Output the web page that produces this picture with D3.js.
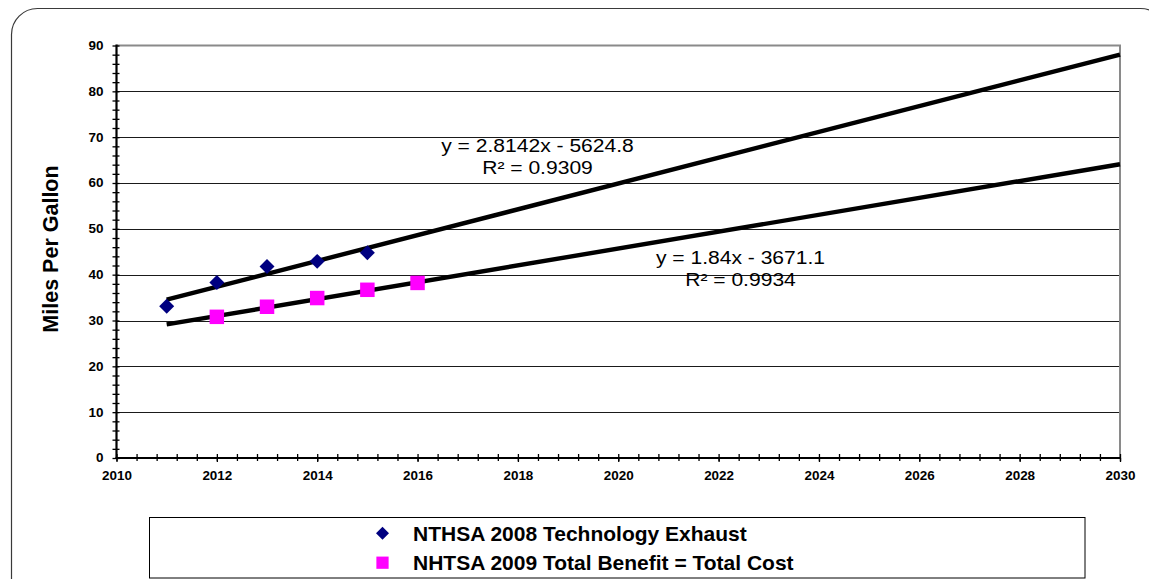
<!DOCTYPE html>
<html>
<head>
<meta charset="utf-8">
<script src="https://cdn.jsdelivr.net/npm/d3@7"></script>
<style>
  body { margin: 0; background: #fff; }
  svg { display: block; }
  text { font-family: "Liberation Sans", Arial, sans-serif; fill: #000; }
</style>
</head>
<body>
<svg id="chart" width="1149" height="579"></svg>
<script>
// Fuel economy estimates (miles per gallon) by model year
const tech2008Years = [2011, 2012, 2013, 2014, 2015];
const tech2008Mpg = [33.1, 38.3, 41.8, 42.9, 44.8];
const benefit2009Years = [2012, 2013, 2014, 2015, 2016];
const benefit2009Mpg = [30.8, 33.0, 34.9, 36.7, 38.2];
const seriesNames = ["NTHSA 2008 Technology Exhaust", "NHTSA 2009 Total Benefit = Total Cost"];

// Linear trendlines fitted to each series
const trendSlopes = [2.8142, 1.84];
const trendIntercepts = [-5624.8, -3671.1];
const trendR2 = [0.9309, 0.9934];
const trendRange = [2011, 2030];

// Axis ticks
const xTicks = d3.range(2010, 2031, 2);
const xMinorTicks = d3.range(0, 51).map(i => 2010 + i * 0.4);
const yTicks = d3.range(0, 91, 10);
const yMinorTicks = d3.range(0, 91, 2);
const yTitle = "Miles Per Gallon";

const svg = d3.select("#chart");
const plot = { left: 116.5, right: 1120, top: 45.5, bottom: 458 };
const x = d3.scaleLinear().domain([2010, 2030]).range([plot.left, plot.right]);
const y = d3.scaleLinear().domain([0, 90]).range([plot.bottom, plot.top]);

// Widen text slightly, the way the chart's renderer spaces glyphs
function widen(sel, factor) {
  sel.each(function () {
    const w = this.getComputedTextLength();
    d3.select(this).attr("textLength", w * factor).attr("lengthAdjust", "spacingAndGlyphs");
  });
}

// Outer rounded frame
svg.append("rect")
  .attr("x", 11.5).attr("y", 8.5)
  .attr("width", 1155).attr("height", 600)
  .attr("rx", 26).attr("ry", 26)
  .attr("fill", "none").attr("stroke", "#3a3a3a").attr("stroke-width", 1.2);

// Horizontal gridlines
svg.append("g")
  .selectAll("line")
  .data(yTicks.filter(v => v > 0 && v < 90))
  .join("line")
  .attr("x1", plot.left).attr("x2", plot.right)
  .attr("y1", d => Math.round(y(d)) + 0.5).attr("y2", d => Math.round(y(d)) + 0.5)
  .attr("stroke", "#1a1a1a").attr("stroke-width", 1);

// Plot area border (top and right)
svg.append("path")
  .attr("d", `M${plot.left},${plot.top}H${plot.right}V${plot.bottom}`)
  .attr("fill", "none").attr("stroke", "#8a8a8a").attr("stroke-width", 2);

// Y axis: ticks cross the axis line
const yAxisG = svg.append("g").attr("transform", `translate(${plot.left},0)`);
yAxisG.append("g").call(d3.axisLeft(y).tickValues(yMinorTicks).tickSize(4).tickFormat(""));
yAxisG.append("g").call(d3.axisRight(y).tickValues(yMinorTicks).tickSize(3).tickFormat(""));
yAxisG.selectAll(".domain").remove();
yAxisG.selectAll("line").attr("stroke", "#000").attr("stroke-width", 1.3);
yAxisG.append("line").attr("y1", plot.top - 1).attr("y2", plot.bottom + 1)
  .attr("stroke", "#000").attr("stroke-width", 2.2);
const yLabels = yAxisG.append("g").call(d3.axisLeft(y).tickValues(yTicks).tickSize(0).tickPadding(13));
yLabels.select(".domain").remove();
yLabels.selectAll("text")
  .attr("font-size", 12).attr("font-weight", "bold")
  .attr("font-family", "Liberation Sans, Arial, sans-serif")
  .attr("fill", "#000").call(widen, 1.12);

// X axis: ticks cross the axis line
const xAxisG = svg.append("g").attr("transform", `translate(0,${plot.bottom})`);
xAxisG.append("g").call(d3.axisBottom(x).tickValues(xMinorTicks).tickSize(3).tickFormat(""));
xAxisG.append("g").call(d3.axisTop(x).tickValues(xMinorTicks).tickSize(4).tickFormat(""));
xAxisG.append("g").call(d3.axisBottom(x).tickValues(xTicks).tickSize(4).tickFormat(""));
xAxisG.selectAll(".domain").remove();
xAxisG.selectAll("line").attr("stroke", "#000").attr("stroke-width", 1.3);
xAxisG.append("line").attr("x1", plot.left - 1).attr("x2", plot.right + 1)
  .attr("stroke", "#000").attr("stroke-width", 2.2);
const xLabels = xAxisG.append("g").call(d3.axisBottom(x).tickValues(xTicks).tickSize(0).tickPadding(13).tickFormat(d3.format("d")));
xLabels.select(".domain").remove();
xLabels.selectAll("text")
  .attr("font-size", 12).attr("font-weight", "bold")
  .attr("font-family", "Liberation Sans, Arial, sans-serif")
  .attr("fill", "#000").call(widen, 1.12);

// Y axis title
svg.append("text")
  .attr("transform", "translate(58,249) rotate(-90)")
  .attr("text-anchor", "middle")
  .attr("font-size", 21.5).attr("font-weight", "bold")
  .text(yTitle);

// Trendlines
trendSlopes.forEach((m, i) => {
  const pts = trendRange.map(t => [t, m * t + trendIntercepts[i]]);
  svg.append("path")
    .attr("d", d3.line().x(d => x(d[0])).y(d => y(d[1]))(pts))
    .attr("fill", "none").attr("stroke", "#000").attr("stroke-width", 4.4)
    .attr("stroke-linecap", "butt");
});

// Data markers
const diamond = d3.symbol().type(d3.symbolSquare).size(112);
svg.append("g").selectAll("path")
  .data(d3.zip(tech2008Years, tech2008Mpg))
  .join("path")
  .attr("d", diamond)
  .attr("transform", d => `translate(${x(d[0])},${y(d[1])}) rotate(45)`)
  .attr("fill", "#000080");

const square = d3.symbol().type(d3.symbolSquare).size(210);
svg.append("g").selectAll("path")
  .data(d3.zip(benefit2009Years, benefit2009Mpg))
  .join("path")
  .attr("d", square)
  .attr("transform", d => `translate(${x(d[0])},${y(d[1])})`)
  .attr("fill", "#ff00ff");

// Trendline equations
const fmtEq = (m, b) => `y = ${m}x - ${Math.abs(b)}`;
const eqPos = [{ cx: 537.5, y: 151.5 }, { cx: 740.5, y: 263.5 }];
trendSlopes.forEach((m, i) => {
  const g = svg.append("g").attr("text-anchor", "middle").attr("font-size", 18);
  g.append("text").attr("x", eqPos[i].cx).attr("y", eqPos[i].y)
    .text(fmtEq(m, trendIntercepts[i])).call(widen, 1.17);
  g.append("text").attr("x", eqPos[i].cx).attr("y", eqPos[i].y + 22.5)
    .text(`R² = ${trendR2[i].toFixed(4)}`).call(widen, 1.17);
});

// Legend
svg.append("rect")
  .attr("x", 149.5).attr("y", 517.5).attr("width", 935.5).attr("height", 60.5)
  .attr("fill", "#fff").attr("stroke", "#000").attr("stroke-width", 1);
const legendRows = [533.3, 562.7];
svg.append("path")
  .attr("d", d3.symbol().type(d3.symbolSquare).size(85)())
  .attr("transform", `translate(382.5,${legendRows[0]}) rotate(45)`)
  .attr("fill", "#000080");
svg.append("path")
  .attr("d", d3.symbol().type(d3.symbolSquare).size(150)())
  .attr("transform", `translate(382.5,${legendRows[1]})`)
  .attr("fill", "#ff00ff");
seriesNames.forEach((name, i) => {
  svg.append("text")
    .attr("x", 413).attr("y", legendRows[i] + 7.5)
    .attr("font-size", 21).attr("font-weight", "bold")
    .text(name);
});
</script>
</body>
</html>
